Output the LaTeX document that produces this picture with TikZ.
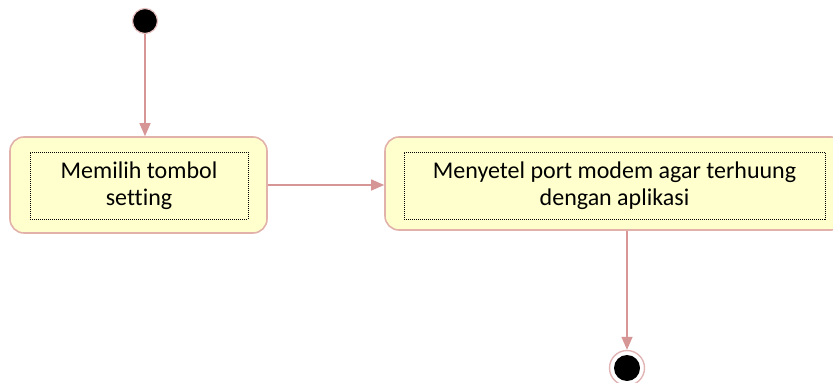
\documentclass[tikz,border=0pt]{standalone}
\usepackage{fontspec}
\setmainfont{Carlito}[Ligatures=NoCommon]
\usetikzlibrary{arrows.meta}
\definecolor{actfill}{RGB}{255,255,206}
\definecolor{actborder}{RGB}{226,178,170}
\definecolor{flow}{RGB}{214,150,150}
\tikzset{
  x=1pt, y=-1pt,
  activity/.style={draw=actborder, line width=1.6pt, fill=actfill, rounded corners=14pt, inner sep=0pt},
  label box/.style={draw=black, dash pattern=on 1pt off 1pt, line width=1pt, inner sep=0pt, align=center, font=\fontsize{24}{27}\selectfont},
  flowline/.style={draw=flow, line width=1.4pt, -{Triangle[length=13pt,width=11pt]}},
  startnode/.style={circle, fill=black, draw=flow!60, line width=1.2pt, minimum size=25pt, inner sep=0pt},
}
\begin{document}
\begin{tikzpicture}
\clip (0,0) rectangle (833,383);
\fill[white] (0,0) rectangle (833,383);

% initial state
\node[startnode] (start) at (145,21) {};

% first action
\node[activity, minimum width=257pt, minimum height=96pt] (b1) at (138.5,185) {};
\node[label box, minimum width=218pt, minimum height=67pt] (t1) at (139,185.5) {Memilih tombol\\setting};

% second action
\node[activity, minimum width=460pt, minimum height=93pt] (b2) at (615,183.5) {};
\node[label box, minimum width=421pt, minimum height=67pt] (t2) at (614.5,185.5) {Menyetel port modem agar terhuung\\dengan aplikasi};

% final state
\node[circle, draw=flow!70, line width=1.4pt, minimum size=35pt, inner sep=0pt, fill=white] (end) at (627,368) {};
\node[circle, fill=black, minimum size=26pt, inner sep=0pt] (endcore) at (end.center) {};

% control flow
\coordinate (b1top) at (b1.north -| start);
\draw[flowline] (start) -- (b1top);
\draw[flowline] (b1.east) -- (b1.east -| b2.west);
\coordinate (b2bot) at (b2.south -| end);
\draw[flowline] (b2bot) -- (end.north);
\end{tikzpicture}
\end{document}
